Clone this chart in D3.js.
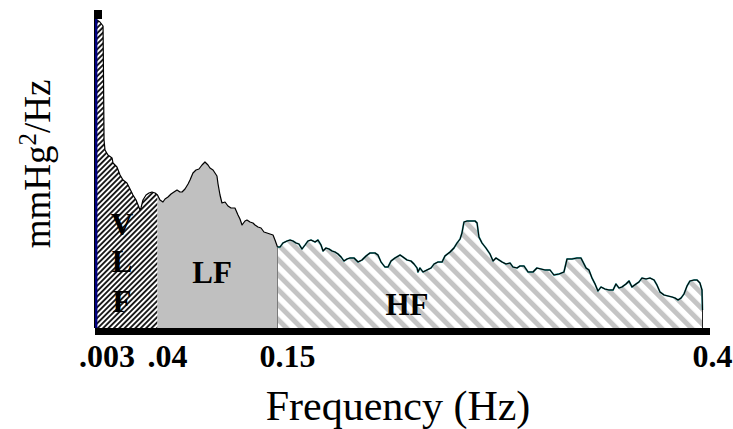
<!DOCTYPE html>
<html>
<head>
<meta charset="utf-8">
<script src="https://cdn.jsdelivr.net/npm/d3@7"></script>
<style>
  html, body { margin: 0; padding: 0; background: #fff; }
  svg { display: block; }
</style>
</head>
<body>
<svg id="chart" width="733" height="429"></svg>
<script>
// Blood-pressure variability power spectrum (arbitrary power units)
const freqHz = [
  0.003, 0.0048, 0.0067, 0.0070, 0.0073, 0.0079, 0.0097, 0.0122, 0.0128, 0.0152,
  0.0171, 0.0189, 0.0213, 0.0232, 0.0250, 0.0269, 0.0281, 0.0293, 0.0299, 0.0311,
  0.0330, 0.0348, 0.0366, 0.0385, 0.040,
  0.0423, 0.0450, 0.0469, 0.0496, 0.0524, 0.0551, 0.0579, 0.0606, 0.0625, 0.0652,
  0.0680, 0.0698, 0.0725, 0.0753, 0.0780, 0.0808, 0.0835, 0.0863, 0.0881, 0.0909,
  0.0927, 0.0945, 0.0955, 0.0973, 0.0991, 0.1019, 0.1046, 0.1074, 0.1110, 0.1138,
  0.1156, 0.1175, 0.1202, 0.1220, 0.1248, 0.1275, 0.1294, 0.1321, 0.1349, 0.1376,
  0.1404, 0.1431, 0.1459, 0.1477, 0.150,
  0.1515, 0.1532, 0.1556, 0.1574, 0.1591, 0.1609, 0.1626, 0.1644, 0.1662, 0.1679,
  0.1697, 0.1721, 0.1738, 0.1756, 0.1768, 0.1785, 0.1803, 0.1821, 0.1838, 0.1856,
  0.1874, 0.1891, 0.1909, 0.1926, 0.1950, 0.1974, 0.1997, 0.2021, 0.2044, 0.2074,
  0.2091, 0.2109, 0.2132, 0.2150, 0.2168, 0.2191, 0.2221, 0.2238, 0.2262, 0.2285,
  0.2303, 0.2321, 0.2326, 0.2338, 0.2356, 0.2379, 0.2403, 0.2421, 0.2444, 0.2468,
  0.2485, 0.2515, 0.2538, 0.2556, 0.2574, 0.2585, 0.2597, 0.2615, 0.2638, 0.2662,
  0.2674, 0.2685, 0.2703, 0.2726, 0.2750, 0.2768, 0.2785, 0.2803, 0.2821, 0.2844,
  0.2868, 0.2885, 0.2909, 0.2926, 0.2950, 0.2974, 0.3003, 0.3026, 0.3050, 0.3074,
  0.3103, 0.3126, 0.3156, 0.3185, 0.3203, 0.3232, 0.3262, 0.3285, 0.3297, 0.3315,
  0.3332, 0.3350, 0.3368, 0.3385, 0.3403, 0.3426, 0.3450, 0.3474, 0.3491, 0.3509,
  0.3526, 0.3550, 0.3568, 0.3585, 0.3609, 0.3626, 0.3644, 0.3668, 0.3691, 0.3715,
  0.3732, 0.3750, 0.3774, 0.3797, 0.3821, 0.3838, 0.3856, 0.3874, 0.3891, 0.3909,
  0.3926, 0.3950, 0.3968, 0.3985, 0.3997, 0.400
];
const power = [
  15.40, 15.30, 15.10, 12.40, 9.40, 8.90, 8.65, 8.50, 8.25, 8.05,
  7.65, 7.40, 7.25, 6.95, 6.65, 6.40, 6.15, 5.90, 6.00, 6.40,
  6.65, 6.75, 6.80, 6.75, 6.65,
  6.40, 6.30, 6.45, 6.55, 6.70, 6.80, 6.90, 6.80, 6.80, 6.95,
  7.20, 7.40, 7.75, 7.90, 7.95, 8.15, 8.30, 8.15, 8.00, 7.90,
  7.75, 7.60, 7.20, 6.65, 6.25, 6.30, 6.10, 6.00, 6.00, 5.65,
  5.45, 5.15, 5.35, 5.40, 5.30, 5.25, 5.15, 5.05, 5.00, 4.80,
  4.75, 4.70, 4.65, 4.40, 4.05,
  4.05, 4.25, 4.35, 4.40, 4.35, 4.25, 4.20, 3.95, 4.15, 4.35,
  4.40, 4.30, 4.40, 4.15, 3.85, 4.00, 3.95, 3.85, 3.80, 3.70,
  3.55, 3.35, 3.45, 3.50, 3.50, 3.30, 3.40, 3.60, 3.75, 3.75,
  3.65, 3.30, 3.05, 3.05, 3.35, 3.50, 3.65, 3.55, 3.40, 3.35,
  3.20, 3.00, 2.80, 3.00, 2.80, 2.90, 3.00, 3.20, 3.30, 3.30,
  3.60, 3.80, 4.00, 4.25, 4.45, 4.75, 5.30, 5.35, 5.35, 5.35,
  5.25, 4.55, 4.25, 4.00, 3.70, 3.35, 3.50, 3.40, 3.30, 3.20,
  3.25, 3.05, 3.00, 3.10, 3.10, 2.80, 2.80, 3.00, 2.95, 2.90,
  2.90, 2.65, 2.70, 2.80, 3.45, 3.45, 3.50, 3.50, 3.30, 3.00,
  2.90, 2.50, 2.20, 1.85, 2.05, 1.95, 1.90, 1.90, 2.20, 2.00,
  2.05, 2.20, 2.35, 2.05, 2.20, 2.30, 2.50, 2.45, 2.50, 2.40,
  2.15, 1.80, 1.65, 1.60, 1.55, 1.50, 1.40, 1.50, 1.70, 2.10,
  2.35, 2.40, 2.40, 2.25, 1.90, 0.90
];

const bandEdges = [0.003, 0.04, 0.15, 0.4];
const bandNames = ["VLF", "LF", "HF"];
const tickLabels = [".003", ".04", "0.15", "0.4"];
const powerMax = 16;
const axisTop = 15.9;

// Band label anchors (frequency, power level of baseline)
const vlfLetters = ["V", "L", "F"];
const vlfLetterHz = 0.0183;
const vlfLetterLevels = [4.65, 2.8, 0.8];
const bandLabelHz = [0.0900, 0.2262];
const bandLabelLevel = [2.25, 0.65];

const svg = d3.select("#chart");
const serif = "'Liberation Serif', 'Times New Roman', serif";

// Piecewise-linear frequency axis: each band gets its own stretch
const x = d3.scaleLinear().domain(bandEdges).range([97, 157.5, 277.5, 702.5]);
const y = d3.scaleLinear().domain([0, powerMax]).range([328, 8]);

const pts = freqHz.map((f, i) => ({ f, p: power[i] }));

// Fill patterns
const defs = svg.append("defs");
const pVlf = defs.append("pattern")
  .attr("id", "hatch-vlf").attr("patternUnits", "userSpaceOnUse")
  .attr("width", 3.8).attr("height", 10)
  .attr("patternTransform", "rotate(45)");
pVlf.append("rect").attr("width", 3.8).attr("height", 10).attr("fill", "#fff");
pVlf.append("rect").attr("width", 1.9).attr("height", 10).attr("fill", "#1a1a1a");

const pHf = defs.append("pattern")
  .attr("id", "hatch-hf").attr("patternUnits", "userSpaceOnUse")
  .attr("width", 10.6).attr("height", 10)
  .attr("patternTransform", "rotate(-45)");
pHf.append("rect").attr("width", 10.6).attr("height", 10).attr("fill", "#fff");
pHf.append("rect").attr("width", 5).attr("height", 10).attr("fill", "#c4c4c4");

const bandFill = { VLF: "url(#hatch-vlf)", LF: "#c0c0c0", HF: "url(#hatch-hf)" };

const area = d3.area().x(d => x(d.f)).y0(y(0)).y1(d => y(d.p));
const line = d3.line().x(d => x(d.f)).y(d => y(d.p));

const bands = bandNames.map((name, i) => {
  const lo = bandEdges[i], hi = bandEdges[i + 1];
  return { name, lo, hi, data: pts.filter(d => d.f >= lo - 1e-9 && d.f <= hi + 1e-9) };
});

svg.append("g").selectAll("path").data(bands).join("path")
  .attr("d", d => area(d.data))
  .attr("fill", d => bandFill[d.name]);

// LF / HF divider and HF closing edge
const lfEnd = bands[1].data[bands[1].data.length - 1];
svg.append("line")
  .attr("x1", x(lfEnd.f)).attr("x2", x(lfEnd.f))
  .attr("y1", y(lfEnd.p)).attr("y2", y(0))
  .attr("stroke", "#7a7a7a").attr("stroke-width", 1);
const hfEnd = bands[2].data[bands[2].data.length - 1];
svg.append("line")
  .attr("x1", x(hfEnd.f)).attr("x2", x(hfEnd.f))
  .attr("y1", y(hfEnd.p)).attr("y2", y(0))
  .attr("stroke", "#222").attr("stroke-width", 1);

// Spectrum outline: teal-edged in HF, plain black elsewhere
svg.append("path").attr("d", line(bands[2].data))
  .attr("fill", "none").attr("stroke", "#3aa8a8").attr("stroke-width", 1.8)
  .attr("stroke-linejoin", "round");
svg.append("path").attr("d", line(pts.filter(d => d.f <= bandEdges[2] + 1e-9)))
  .attr("fill", "none").attr("stroke", "#000").attr("stroke-width", 1.2)
  .attr("stroke-linejoin", "round");
svg.append("path").attr("d", line(bands[2].data))
  .attr("fill", "none").attr("stroke", "#000").attr("stroke-width", 1.1)
  .attr("stroke-linejoin", "round");

// Vertical (power) axis
const x0 = x(bandEdges[0]);
svg.append("line").attr("x1", x0 - 2.5).attr("x2", x0 - 2.5)
  .attr("y1", y(axisTop)).attr("y2", y(0))
  .attr("stroke", "#000").attr("stroke-width", 1);
svg.append("line").attr("x1", x0 - 0.8).attr("x2", x0 - 0.8)
  .attr("y1", y(axisTop)).attr("y2", y(0))
  .attr("stroke", "#000080").attr("stroke-width", 2.4);
svg.append("rect").attr("x", x0 - 3).attr("y", y(axisTop))
  .attr("width", 8).attr("height", y(15.45) - y(axisTop)).attr("fill", "#000");

// Horizontal (frequency) axis bar
svg.append("rect")
  .attr("x", x(bandEdges[0]) - 2).attr("y", y(0))
  .attr("width", x(bandEdges[3]) + 7.5 - (x(bandEdges[0]) - 2))
  .attr("height", 7).attr("fill", "#000");

// Tick labels
svg.append("g").selectAll("text").data(bandEdges).join("text")
  .attr("x", d => x(d) + 10).attr("y", y(0) + 39)
  .attr("text-anchor", "middle")
  .attr("font-family", serif)
  .attr("font-weight", "bold").attr("font-size", 32)
  .text((d, i) => tickLabels[i]);

// Band labels
svg.append("g").selectAll("text").data(vlfLetters).join("text")
  .attr("x", x(vlfLetterHz)).attr("y", (d, i) => y(vlfLetterLevels[i]))
  .attr("text-anchor", "middle").attr("font-family", serif)
  .attr("font-weight", "bold").attr("font-size", 31).attr("fill", "#000")
  .text(d => d);
svg.append("g").selectAll("text").data(bandNames.slice(1)).join("text")
  .attr("x", (d, i) => x(bandLabelHz[i])).attr("y", (d, i) => y(bandLabelLevel[i]))
  .attr("text-anchor", "middle").attr("font-family", serif)
  .attr("font-weight", "bold").attr("font-size", 31).attr("fill", "#000")
  .text(d => d);

// Axis titles
svg.append("text")
  .attr("x", 398).attr("y", 420)
  .attr("text-anchor", "middle").attr("font-family", serif)
  .attr("font-size", 42).text("Frequency (Hz)");

const yt = svg.append("text")
  .attr("transform", "translate(50,164) rotate(-90)")
  .attr("text-anchor", "middle").attr("font-family", serif)
  .attr("font-size", 37);
yt.append("tspan").text("mmHg");
yt.append("tspan").attr("font-size", 25).attr("dy", -14).text("2");
yt.append("tspan").attr("dy", 14).text("/Hz");
</script>
</body>
</html>
